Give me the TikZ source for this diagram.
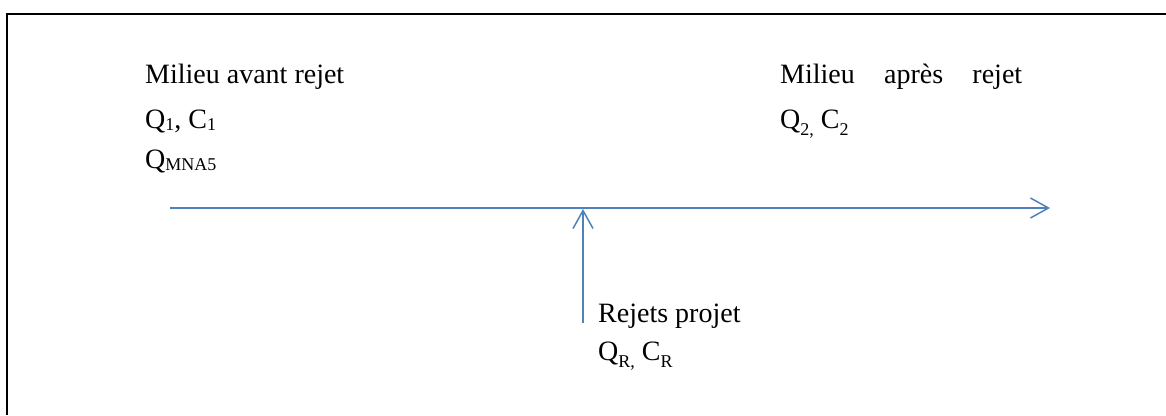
\documentclass[tikz,border=0pt]{standalone}
\usepackage{fontspec}
\setmainfont{Liberation Serif}
\usetikzlibrary{arrows.meta}
\definecolor{flowblue}{RGB}{79,129,189}
\def\smallsub#1{\raisebox{-2pt}{\fontsize{18}{18}\selectfont #1}}
\def\lowsub#1{\raisebox{-7pt}{\fontsize{18}{18}\selectfont #1}}

\begin{document}
\begin{tikzpicture}[x=1pt,y=-1pt,
        every node/.style={anchor=base west,inner sep=0pt,font=\fontsize{28}{32}\selectfont},
        flow/.style={draw=flowblue,line width=1.5pt,-{Straight Barb[length=18pt,width=20pt]}}]
    \useasboundingbox (0,0) rectangle (1166,415);
    % cadre
    \draw[line width=2.2pt] (7,415) -- (7,14) -- (1166,14);
    % milieu avant rejet
    \node (avant)  at (145,83)  {Milieu avant rejet};
    \node (qc1)    at (145,128) {Q\smallsub{1}, C\smallsub{1}};
    \node (qmna)   at (145,168) {Q\smallsub{MNA5}};
    % milieu apres rejet
    \node (apres)  at (780,83)  {\makebox[242pt][s]{Milieu après rejet}};
    \node (qc2)    at (780,128) {Q\lowsub{2,} C\lowsub{2}};
    % rejets
    \node (rejet)  at (598,322) {Rejets projet};
    \node (qcr)    at (598,360) {Q\lowsub{R,} C\lowsub{R}};
    % ecoulement
    \coordinate (amont)  at (170,208);
    \coordinate (aval)   at (1050,208);
    \coordinate (source) at (583,323);
    \coordinate (melange) at (583,209);
    \draw[flow] (amont) -- (aval);
    \draw[flow] (source) -- (melange);
\end{tikzpicture}
\end{document}
